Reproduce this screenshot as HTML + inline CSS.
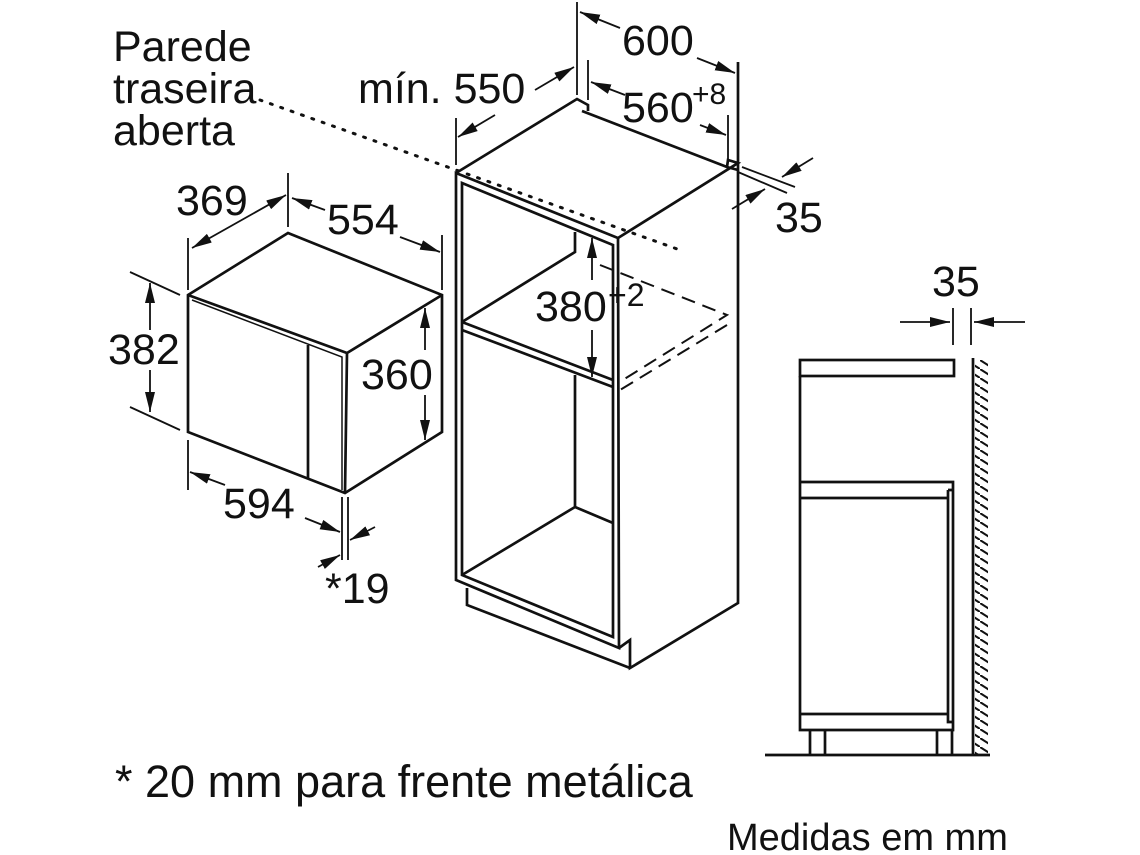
<!DOCTYPE html>
<html><head><meta charset="utf-8"><style>
html,body{margin:0;padding:0;background:#fff}
svg{display:block}
text{font-family:"Liberation Sans",sans-serif;fill:#111}
</style></head><body>
<svg width="1140" height="855" viewBox="0 0 1140 855" xmlns="http://www.w3.org/2000/svg">
<defs>
<marker id="a" viewBox="0 0 20 10" refX="20" refY="5" markerWidth="20" markerHeight="10" markerUnits="userSpaceOnUse" orient="auto-start-reverse">
<path d="M0,0 L20,5 L0,10 z" fill="#111"/></marker>
<pattern id="h" width="14" height="9" patternUnits="userSpaceOnUse">
<path d="M0,0 L14,9" stroke="#111" stroke-width="2"/></pattern>
</defs>
<g fill="none" stroke="#111" stroke-width="2.7" stroke-linejoin="miter">
<path d="M188,295 L288,233 L442,295 L442,432 L345,493 L188,432 Z"/>
<path d="M188,295 L347,353 L442,295 M347,353 L345,493"/>
<path d="M192,300 L342,357 L342,490" stroke-width="1.5"/>
<path d="M308,345 L308,478"/>
<path d="M188,238 V290 M288,173 V227 M442,235 V290 M130,272 L180,295 M130,407 L180,430 M188,440 V490 M342,497 V560 M348,497 V560" stroke-width="1.8"/>
<path d="M192,248 L286,195" marker-start="url(#a)" marker-end="url(#a)" stroke-width="1.8"/>
<path d="M292,198 L325,210" marker-start="url(#a)" stroke-width="1.8"/>
<path d="M400,237 L440,252" marker-end="url(#a)" stroke-width="1.8"/>
<path d="M150,330 V283" marker-end="url(#a)" stroke-width="1.8"/>
<path d="M150,370 V412" marker-end="url(#a)" stroke-width="1.8"/>
<path d="M425,350 V308" marker-end="url(#a)" stroke-width="1.8"/>
<path d="M425,395 V440" marker-end="url(#a)" stroke-width="1.8"/>
<path d="M225,485 L190,472" marker-end="url(#a)" stroke-width="1.8"/>
<path d="M305,518 L340,532" marker-end="url(#a)" stroke-width="1.8"/>
<path d="M318,567 L340,555" marker-end="url(#a)" stroke-width="1.8"/>
<path d="M375,527 L350,540" marker-end="url(#a)" stroke-width="1.8"/>
<path d="M456,173 L577,99 L588,105 L588,111 M582,111 L727,167 L728,160 L738,163 L618,238 M727,167 L738,170"/>
<path d="M456,173 L618,238 L619,648 L456,580 Z"/>
<path d="M462,183 L613,245 L613,637 L462,575 Z"/>
<path d="M738,62 V603 L630,668 V640 L619,648 M467,588 V605 L630,668"/>
<path d="M462,322 L613,380 M462,330 L613,387 M462,322 L575,252 V232 M575,375 V507 L613,523 M575,507 L462,575"/>
<path d="M600,265 L727,315 L618,383 M727,325 L620,390" stroke-dasharray="14,8" stroke-width="2"/>
<path d="M260,100 L680,250" stroke-dasharray="2,9" stroke-width="3" stroke-linecap="round"/>
<path d="M577,2 V95 M588,60 V100 M728,115 V160 M456,118 V165 M742,167 L795,187 M738,172 L787,193" stroke-width="1.8"/>
<path d="M620,28 L580,12" marker-end="url(#a)" stroke-width="1.8"/>
<path d="M697,58 L735,73" marker-end="url(#a)" stroke-width="1.8"/>
<path d="M625,95 L591,82" marker-end="url(#a)" stroke-width="1.8"/>
<path d="M700,125 L726,135" marker-end="url(#a)" stroke-width="1.8"/>
<path d="M535,90 L574,67" marker-end="url(#a)" stroke-width="1.8"/>
<path d="M495,115 L458,137" marker-end="url(#a)" stroke-width="1.8"/>
<path d="M813,158 L782,177" marker-end="url(#a)" stroke-width="1.8"/>
<path d="M732,209 L765,189" marker-end="url(#a)" stroke-width="1.8"/>
<path d="M592,280 V238" marker-end="url(#a)" stroke-width="1.8"/>
<path d="M592,330 V377" marker-end="url(#a)" stroke-width="1.8"/>
<rect x="800" y="360" width="154" height="16"/>
<path d="M800,376 V730 H953 V482 H800 M800,498 H948 M948,490 H953 M948,490 V722 H953 M800,714 H948"/>
<path d="M810,730 V755 M825,730 V755 M937,730 V755 M952,730 V755 M765,755 H990 M973,358 V755"/>
<rect x="975" y="360" width="13" height="395" fill="url(#h)" stroke="none"/>
<path d="M953,308 V345 M971,308 V345" stroke-width="1.8"/>
<path d="M900,322 H950" marker-end="url(#a)" stroke-width="1.8"/>
<path d="M1025,322 H974" marker-end="url(#a)" stroke-width="1.8"/>
</g>
<g font-size="43">
<text x="113" y="61">Parede</text>
<text x="113" y="103">traseira</text>
<text x="113" y="145">aberta</text>
<text x="358" y="103">mín. 550</text>
<text x="622" y="55">600</text>
<text x="622" y="122">560</text><text x="692" y="104" font-size="30">+8</text>
<text x="775" y="232">35</text>
<text x="535" y="321">380</text><text x="608" y="306" font-size="32">+2</text>
<text x="176" y="215">369</text>
<text x="327" y="234">554</text>
<text x="108" y="364">382</text>
<text x="361" y="389">360</text>
<text x="223" y="518">594</text>
<text x="325" y="603">*19</text>
<text x="932" y="296">35</text>
<text x="115" y="797" font-size="45">* 20 mm para frente metálica</text>
<text x="727" y="850" font-size="38">Medidas em mm</text>
</g>
</svg>
</body></html>
